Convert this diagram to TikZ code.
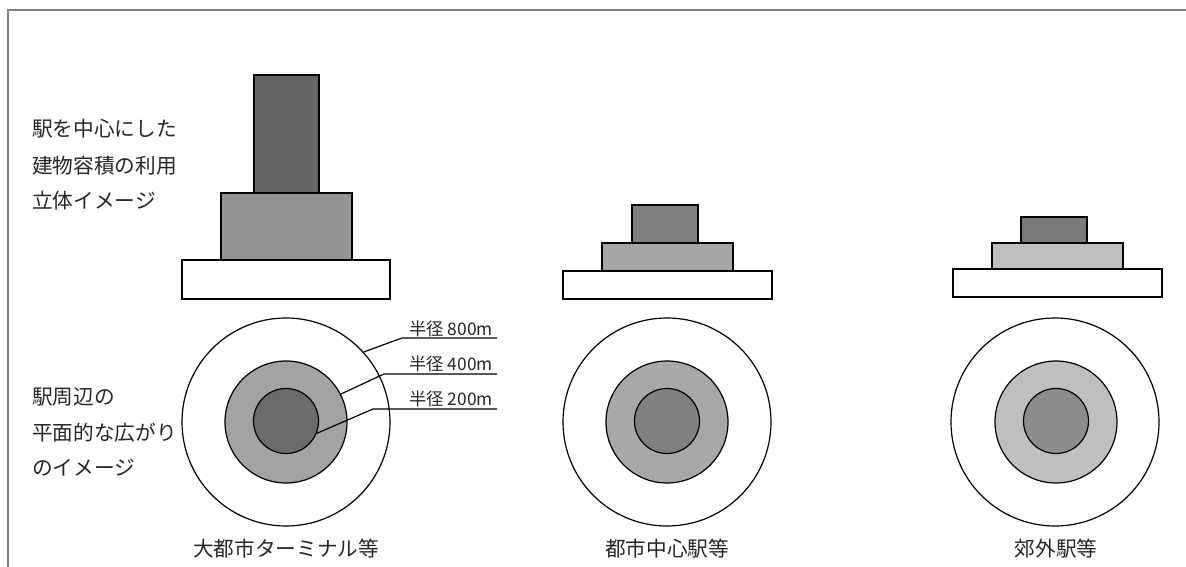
\documentclass[tikz,border=0pt]{standalone}
\usepackage{fontspec}
\setmainfont{Noto Sans CJK JP}
\begin{document}
\begin{tikzpicture}[x=0.75pt,y=-0.75pt,
  frame/.style={draw=black!50,line width=1.5pt},
  blk/.style={draw=black,line width=1.3pt},
  ring/.style={circle,draw=black,line width=0.9pt,inner sep=0pt},
  outer/.style={ring,minimum size=156pt},
  mid/.style={ring,minimum size=91.5pt},
  inn/.style={ring,minimum size=48.75pt},
  lbl/.style={font=\fontsize{15.5pt}{18pt}\selectfont,inner sep=0pt,text=black!85},
  rad/.style={font=\fontsize{13pt}{15pt}\selectfont,inner sep=0pt,anchor=east,text=black!85},
  lead/.style={draw=black,line width=0.9pt}]
\useasboundingbox (0,0) rectangle (1186,567);
\fill[white] (0,0) rectangle (1186,567);
\draw[frame] (8,567) -- (8,10) -- (1186,10);

% station 1 volumes
\filldraw[blk,fill=black!60] (254,75) rectangle (319,193);
\filldraw[blk,fill=black!42] (221,193) rectangle (352,260);
\filldraw[blk,fill=white] (182,260) rectangle (390,299);
% station 2 volumes
\filldraw[blk,fill=black!50] (632,205) rectangle (698,243);
\filldraw[blk,fill=black!35] (602,243) rectangle (733,271);
\filldraw[blk,fill=white] (563,271) rectangle (772,299);
% station 3 volumes
\filldraw[blk,fill=black!52] (1021,217) rectangle (1087,243);
\filldraw[blk,fill=black!25] (992,243) rectangle (1123,269);
\filldraw[blk,fill=white] (953,269) rectangle (1162,297);

% circles
\node[outer,fill=white] (c1o) at (286,422) {};
\node[mid,fill=black!36] (c1m) at (286,422) {};
\node[inn,fill=black!58] (c1i) at (286,421) {};
\node[outer,fill=white] (c2o) at (667,422) {};
\node[mid,fill=black!34] (c2m) at (667,422) {};
\node[inn,fill=black!50] (c2i) at (667,421) {};
\node[outer,fill=white] (c3o) at (1055,422) {};
\node[mid,fill=black!25] (c3m) at (1056,422) {};
\node[inn,fill=black!45] (c3i) at (1056,421) {};

% radius labels
\node[rad] (r800) at (493,329) {半径 800m};
\node[rad] (r400) at (493,364) {半径 400m};
\node[rad] (r200) at (493,399) {半径 200m};
\coordinate (e800) at (497,338);
\coordinate (e400) at (497,374);
\coordinate (e200) at (497,409);
\coordinate (k800) at (402,338);
\coordinate (k400) at (384,374);
\coordinate (k200) at (373,409);
\draw[lead] (c1o.42) -- (k800) -- (e800);
\draw[lead] (c1m.27) -- (k400) -- (e400);
\draw[lead] (c1i.-22) -- (k200) -- (e200);

% left texts
\node[lbl,anchor=west] (t1) at (32,129) {駅を中心にした};
\node[lbl,anchor=west] (t2) at (32,166) {建物容積の利用};
\node[lbl,anchor=west] (t3) at (32,201) {立体イメージ};
\node[lbl,anchor=west] (t4) at (32,397) {駅周辺の};
\node[lbl,anchor=west] (t5) at (32,433) {平面的な広がり};
\node[lbl,anchor=west] (t6) at (32,468) {のイメージ};

% bottom labels
\node[lbl] (b1) at (286,549) {大都市ターミナル等};
\node[lbl] (b2) at (667,549) {都市中心駅等};
\node[lbl] (b3) at (1056,549) {郊外駅等};
\end{tikzpicture}
\end{document}
